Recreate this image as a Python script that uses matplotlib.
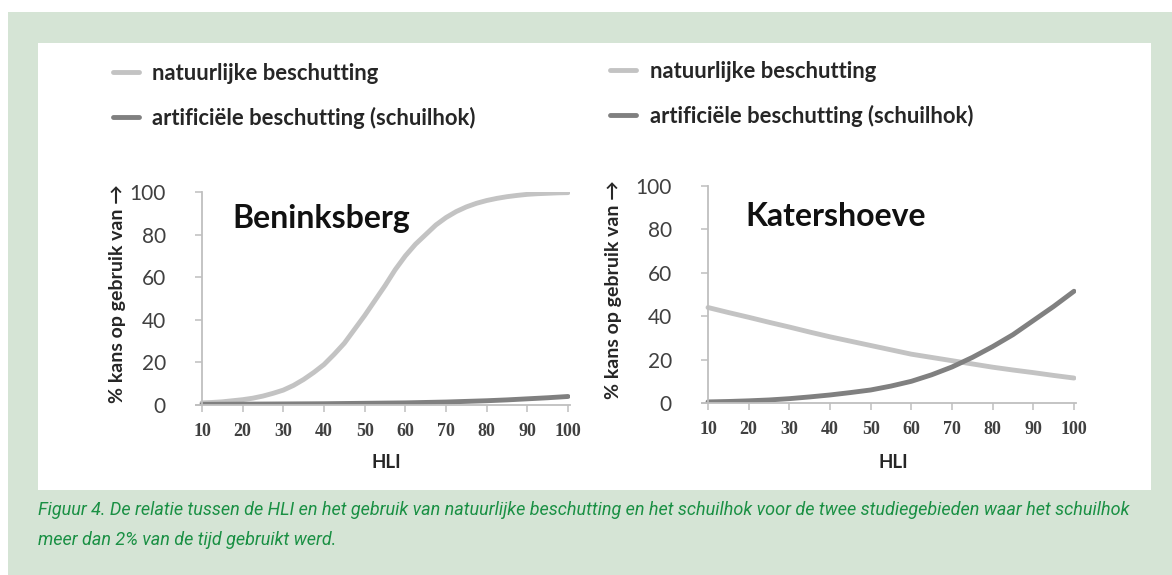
import matplotlib
matplotlib.use("Agg")
import matplotlib.pyplot as plt
from matplotlib.patches import Rectangle

# HLI values (x) and % chance of use
hli = [10, 15, 20, 25, 30, 35, 40, 45, 50, 55, 60, 65, 70, 75, 80, 85, 90, 95, 100]
hli_fine = [10, 12.5, 15, 17.5, 20, 22.5, 25, 27.5, 30, 32.5, 35, 37.5, 40, 42.5, 45, 47.5, 50, 52.5,
            55, 57.5, 60, 62.5, 65, 67.5, 70, 72.5, 75, 77.5, 80, 82.5, 85, 87.5, 90, 92.5, 95, 97.5, 100]

benink_natuur = [1.0, 1.2, 1.5, 2.0, 2.5, 3.2, 4.2, 5.5, 7.0, 9.2, 12, 15.3, 19, 23.8, 29, 35.5, 42, 49,
                 56, 63.5, 70, 75.5, 80, 84.5, 88, 90.8, 93, 94.7, 96, 97, 97.8, 98.4, 98.9, 99.2, 99.4, 99.6, 99.7]
benink_schuil = [0.3, 0.35, 0.4, 0.45, 0.5, 0.55, 0.6, 0.7, 0.8, 0.9, 1.0, 1.2, 1.4, 1.7, 2.0, 2.4, 2.9, 3.4, 4.0]

kater_natuur = [44, 41.7, 39.5, 37.2, 35, 32.7, 30.5, 28.5, 26.5, 24.5, 22.5, 21, 19.5, 18, 16.5, 15.2, 14, 12.7, 11.5]
kater_schuil = [0.5, 0.7, 1.0, 1.4, 2.0, 2.8, 3.7, 4.8, 6.0, 7.8, 10.0, 13.0, 16.6, 21.0, 26.0, 31.5, 38.0, 44.5, 51.5]

x_ticks = [10, 20, 30, 40, 50, 60, 70, 80, 90, 100]
y_ticks = [0, 20, 40, 60, 80, 100]

labels = ["natuurlijke beschutting", "artificiële beschutting (schuilhok)"]
titles = ["Beninksberg", "Katershoeve"]
caption_lines = ["Figuur 4. De relatie tussen de HLI en het gebruik van natuurlijke beschutting en het schuilhok voor de twee studiegebieden waar het schuilhok",
                 "meer dan 2% van de tijd gebruikt werd."]

W, H = 1172, 575
c_nat = "#c3c3c3"
c_art = "#808080"
c_axis = "#bfbfbf"
c_text = "#262626"
c_green = "#1a9044"
sans = ["Lato", "DejaVu Sans"]


def fx(px):
    return px / W


def fy(py):
    return 1 - py / H


fig = plt.figure(figsize=(W / 100, H / 100), dpi=100)
fig.patch.set_facecolor("white")
fig.patches.append(Rectangle((fx(8), 0), 1 - fx(8), fy(12), transform=fig.transFigure,
                             facecolor="#d5e4d5", edgecolor="none", zorder=-2))
fig.patches.append(Rectangle((fx(38), fy(490)), fx(1151) - fx(38), fy(43) - fy(490),
                             transform=fig.transFigure, facecolor="white", edgecolor="none", zorder=-1))

# panel geometry in pixels: x=10 at px0, y=0 at py0, y=100 at py100
panels = [
    dict(px0=202, py0=405, py100=192, nat=(hli_fine, benink_natuur), art=(hli, benink_schuil),
         leg=(113, 63), title_xy=(232, 218), ylab_x=117, hli_x=386),
    dict(px0=708, py0=403, py100=186, nat=(hli, kater_natuur), art=(hli, kater_schuil),
         leg=(610, 61), title_xy=(745, 217), ylab_x=613, hli_x=893),
]
ppu = (568 - 202) / 90.0

for i, p in enumerate(panels):
    x_lo, x_hi = 8.5, 100.5
    left = p["px0"] - (10 - x_lo) * ppu
    right = p["px0"] + (x_hi - 10) * ppu
    ax = fig.add_axes([fx(left), fy(p["py0"]), fx(right) - fx(left), fy(p["py100"]) - fy(p["py0"])])
    ax.set_facecolor("none")
    l1, = ax.plot(*p["nat"], color=c_nat, lw=3.5, solid_capstyle="round",
                  solid_joinstyle="round", label=labels[0])
    l2, = ax.plot(*p["art"], color=c_art, lw=3.5, solid_capstyle="round",
                  solid_joinstyle="round", label=labels[1])
    ax.set_xlim(x_lo, x_hi)
    ax.set_ylim(0, 100)
    ax.set_xticks(x_ticks)
    ax.set_yticks(y_ticks)
    for s in ["top", "right"]:
        ax.spines[s].set_visible(False)
    for s in ["left", "bottom"]:
        ax.spines[s].set_color(c_axis)
        ax.spines[s].set_linewidth(1.3)
    ax.spines["left"].set_position(("data", 10))
    ax.tick_params(axis="both", color=c_axis, length=5, width=1.1)
    ax.tick_params(axis="y", pad=21)
    ax.tick_params(axis="x", pad=8)
    for t in ax.get_yticklabels():
        t.set_family(sans)
        t.set_fontsize(15)
        t.set_color("#404040")
    for t in ax.get_xticklabels():
        t.set_family(["Liberation Serif", "DejaVu Serif"])
        t.set_fontweight("bold")
        t.set_fontsize(13)
        t.set_color("#404040")

    fig.text(fx(p["title_xy"][0]), fy(p["title_xy"][1]), titles[i], family=sans,
             fontsize=23, fontweight="bold", color="#111111", va="center", ha="left")
    fig.text(fx(p["ylab_x"]), fy((p["py0"] + p["py100"]) / 2 - 5), "% kans op gebruik van \u2192",
             family=sans, fontsize=14, fontweight="bold", color=c_text, rotation=90,
             va="center", ha="center")
    fig.text(fx(p["hli_x"]), fy(463), "HLI", family=sans, fontsize=13.5, fontweight="bold",
             color=c_text, va="center", ha="center")

    lx, ly = p["leg"]
    fig.legend(handles=[l1, l2], labels=labels, loc="upper left",
               bbox_to_anchor=(fx(lx), fy(ly)), frameon=False, handlelength=1.2,
               handletextpad=0.6, labelspacing=1.05, borderpad=0, borderaxespad=0,
               prop=dict(family=sans, weight="bold", size=15.8), labelcolor=c_text)

# caption: shrink font until the first line fits the green box width
cap_font = ["Roboto", "DejaVu Sans"]
size = 13.0
renderer = fig.canvas.get_renderer()
while size > 8:
    probe = fig.text(0, 0, caption_lines[0], family=cap_font, style="italic", fontsize=size)
    w = probe.get_window_extent(renderer).width
    probe.remove()
    if w <= 1100:
        break
    size -= 0.25
fig.text(fx(38), fy(510), caption_lines[0], family=cap_font, style="italic", fontsize=size,
         color=c_green, va="center", ha="left")
fig.text(fx(38), fy(540), caption_lines[1], family=cap_font, style="italic", fontsize=size,
         color=c_green, va="center", ha="left")

fig.savefig("out.png", dpi=100, facecolor=fig.get_facecolor())
